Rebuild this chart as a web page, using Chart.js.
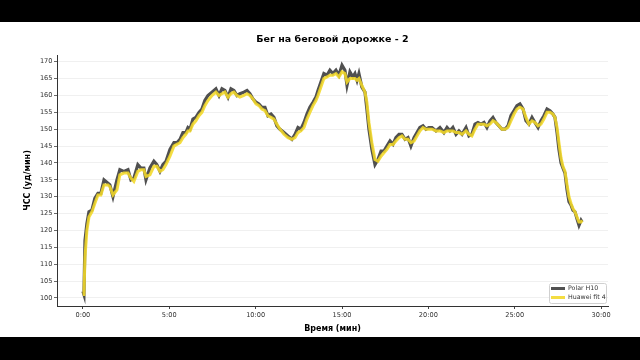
<!DOCTYPE html>
<html>
<head>
<meta charset="utf-8">
<script src="https://cdn.jsdelivr.net/npm/chart.js@4/dist/chart.umd.min.js"></script>
<style>
  html, body { margin: 0; padding: 0; background: #000; }
  #wrap { position: absolute; left: 0; top: 22px; width: 640px; height: 315px; background: #fff; }
</style>
</head>
<body>
<div id="wrap"><canvas id="hrChart" width="640" height="315"></canvas></div>
<script>
const chartTitle = "Бег на беговой дорожке - 2";
const xTitle = "Время (мин)";
const yTitle = "ЧСС (уд/мин)";
const seriesNames = ["Polar H10", "Huawei fit 4"];

// time in minutes
const minutes = [
  0.00, 0.06, 0.12, 0.23, 0.35, 0.52, 0.69, 0.87, 1.04, 1.22,
  1.45, 1.56, 1.74, 1.97, 2.14, 2.37, 2.61, 2.78, 2.95, 3.18,
  3.36, 3.53, 3.65, 3.88, 4.11, 4.28, 4.46, 4.63, 4.81, 5.04,
  5.27, 5.44, 5.62, 5.79, 5.96, 6.08, 6.20, 6.37, 6.54, 6.72,
  6.89, 7.06, 7.24, 7.47, 7.70, 7.88, 8.05, 8.22, 8.40, 8.57,
  8.74, 8.92, 9.09, 9.32, 9.50, 9.67, 9.84, 10.02, 10.19, 10.36,
  10.54, 10.71, 10.89, 11.06, 11.23, 11.41, 11.64, 11.87, 12.10, 12.28,
  12.45, 12.62, 12.80, 12.97, 13.14, 13.32, 13.49, 13.61, 13.78, 13.95,
  14.13, 14.30, 14.47, 14.65, 14.82, 15.00, 15.17, 15.29, 15.46, 15.63,
  15.75, 15.87, 15.98, 16.15, 16.33, 16.44, 16.56, 16.73, 16.91, 17.08,
  17.26, 17.43, 17.60, 17.78, 17.95, 18.12, 18.30, 18.47, 18.65, 18.82,
  18.99, 19.17, 19.34, 19.51, 19.69, 19.86, 20.03, 20.21, 20.44, 20.67,
  20.90, 21.08, 21.25, 21.42, 21.60, 21.77, 21.95, 22.18, 22.35, 22.52,
  22.70, 22.87, 23.05, 23.22, 23.39, 23.57, 23.74, 23.91, 24.09, 24.26,
  24.44, 24.61, 24.78, 24.96, 25.13, 25.30, 25.48, 25.65, 25.82, 26.00,
  26.17, 26.35, 26.52, 26.69, 26.87, 27.04, 27.21, 27.33, 27.45, 27.56,
  27.68, 27.79, 27.91, 28.03, 28.14, 28.26, 28.37, 28.49, 28.60, 28.72,
  28.84, 28.90
];

const polarHR = [
  102, 101, 117, 122, 125.5, 126, 129.5, 131, 131, 135,
  134, 133.5, 130, 135, 138, 137.5, 138, 135, 135.5, 139.5,
  138.5, 138.5, 135, 138.5, 140.5, 139.5, 137.5, 139.5, 140.5, 144,
  146, 146, 147, 149, 149, 150.5, 150, 153, 153.5, 155,
  156, 158.5, 160, 161, 162, 160, 162, 161.5, 159.5, 162,
  161.5, 160, 160.5, 161, 161.5, 160.5, 159, 158, 157.5, 156.5,
  156.5, 154, 154.5, 153.5, 151, 150, 149, 148, 147, 148.5,
  150.5, 150, 152, 154.5, 156.5, 158, 159.5, 161.5, 164, 166.5,
  166, 167.5, 166.5, 167.5, 166, 169, 167.5, 163, 167, 165.5,
  166.5, 164.5, 166.5, 162.5, 161, 156, 150, 144, 139.5, 141,
  143.5, 143.5, 145, 146.5, 145.5, 147.5, 148.5, 148.5, 147, 147.5,
  145, 147.5, 149, 150.5, 151, 150, 150.5, 150.5, 149.5, 150.5,
  149, 150.5, 149.5, 150.5, 148.5, 149.5, 148.5, 150.5, 148, 148.5,
  151.5, 152, 151.5, 152, 150.5, 152.5, 153.5, 152, 151, 150,
  150, 151, 154, 155.5, 157, 157.5, 156, 152.5, 151.5, 153.5,
  152, 150.5, 152.5, 154, 156, 155.5, 154.5, 153.5, 149, 144,
  140, 138.5, 137, 132, 128.5, 127.5, 126, 125.5, 123.5, 121.5,
  123, 122.5
];

const huaweiHR = [
  101, 101, 112, 120, 124, 125.5, 128, 130.5, 130.5, 133.5,
  133.5, 133, 130.5, 132, 136.5, 137, 137, 135.5, 134.5, 137.5,
  138, 138, 136, 136.5, 139, 139, 137.5, 138, 139.5, 142,
  145, 145.5, 146, 147.5, 148.5, 149.5, 149.5, 151.5, 152.5, 154,
  155, 157, 158.5, 160, 161, 160, 160.5, 161, 159.5, 160.5,
  161, 160, 159.5, 160, 160.5, 160, 159, 157.5, 157, 156,
  155.5, 154, 153.5, 153, 151.5, 150, 148.5, 147.5, 147, 147.5,
  149, 149.5, 150.5, 153, 155, 157, 158.5, 160, 162.5, 165,
  165.5, 166, 166, 166.5, 165.5, 167, 166.5, 164, 165, 165,
  165, 164.5, 165, 163, 161, 158, 152, 146, 141, 140.5,
  142, 143, 144, 145.5, 145.5, 146.5, 147.5, 148, 147, 147,
  146, 146.5, 148, 149.5, 150.5, 150, 150, 150, 149.5, 149.5,
  149, 149.5, 149.5, 149.5, 149, 149, 148.5, 149.5, 148.5, 148,
  150, 151.5, 151.5, 151.5, 151, 151.5, 152.5, 152, 151, 150,
  150, 150.5, 152.5, 154.5, 156, 156.5, 156, 153.5, 151.5, 152.5,
  152, 151, 151.5, 153, 155, 155, 154.5, 153.5, 150.5, 146,
  141.5, 139, 137.5, 133.5, 130, 128, 126.5, 125.5, 124, 122.5,
  122.5, 123
];

const xTicks = [0, 5, 10, 15, 20, 25, 30];
const yTicks = [100, 105, 110, 115, 120, 125, 130, 135, 140, 145, 150, 155, 160, 165, 170];

const polarColor = "#505050";
const huaweiColor = "rgba(242, 216, 40, 0.88)";

function toPoints(values) {
  return minutes.map((m, i) => ({ x: m, y: values[i] }));
}

// title centred over the axes, like matplotlib does
const titlePlugin = {
  id: "axesTitle",
  afterDraw(chart) {
    const { ctx, chartArea } = chart;
    ctx.save();
    ctx.font = "bold 9.5px 'DejaVu Sans'";
    ctx.fillStyle = "#000";
    ctx.textAlign = "center";
    ctx.textBaseline = "middle";
    ctx.fillText(chartTitle, (chartArea.left + chartArea.right) / 2, 18);
    ctx.restore();
  }
};

// legend box in the lower right corner of the plot
const cornerLegend = {
  id: "cornerLegend",
  afterDraw(chart) {
    const { ctx, chartArea } = chart;
    const colors = [polarColor, huaweiColor];
    const w = 57, h = 20;
    const x0 = chartArea.right - w - 2;
    const y0 = chartArea.bottom - h - 3;
    ctx.save();
    ctx.fillStyle = "rgba(255,255,255,0.85)";
    ctx.strokeStyle = "#d0d0d0";
    ctx.lineWidth = 1;
    ctx.beginPath();
    ctx.roundRect(x0 + 0.5, y0 + 0.5, w, h, 2);
    ctx.fill();
    ctx.stroke();
    ctx.font = "6.3px 'DejaVu Sans'";
    ctx.textBaseline = "middle";
    seriesNames.forEach((name, i) => {
      const yy = y0 + 5.5 + i * 9;
      ctx.strokeStyle = colors[i];
      ctx.lineWidth = 3;
      ctx.beginPath();
      ctx.moveTo(x0 + 2, yy);
      ctx.lineTo(x0 + 16, yy);
      ctx.stroke();
      ctx.fillStyle = "#333";
      ctx.fillText(name, x0 + 19, yy);
    });
    ctx.restore();
  }
};

new Chart(document.getElementById("hrChart"), {
  type: "line",
  data: {
    datasets: [
      {
        label: seriesNames[0],
        data: toPoints(polarHR),
        borderColor: polarColor,
        backgroundColor: polarColor,
        borderWidth: 3.2,
        pointRadius: 0,
        tension: 0,
        order: 2
      },
      {
        label: seriesNames[1],
        data: toPoints(huaweiHR),
        borderColor: huaweiColor,
        backgroundColor: huaweiColor,
        borderWidth: 3,
        pointRadius: 0,
        tension: 0,
        order: 1
      }
    ]
  },
  options: {
    responsive: false,
    animation: false,
    layout: { padding: { top: 33, right: 32, left: 0, bottom: 0 } },
    plugins: {
      legend: { display: false },
      tooltip: { enabled: false },
      title: { display: false }
    },
    scales: {
      x: {
        type: "linear",
        min: -1.5,
        max: 30.4,
        afterFit: (scale) => { scale.height = 31; },
        afterBuildTicks: (scale) => { scale.ticks = xTicks.map(v => ({ value: v })); },
        ticks: {
          color: "#333",
          padding: 2,
          maxRotation: 0,
          font: { family: "'DejaVu Sans'", size: 6.6 },
          callback: (v) => v + ":00"
        },
        grid: {
          drawOnChartArea: false,
          tickColor: "#444",
          tickLength: 3
        },
        border: { display: true, color: "#333", width: 1 },
        title: {
          display: true,
          text: xTitle,
          color: "#000",
          padding: { top: 0, bottom: 3.5 },
          font: { family: "'DejaVu Sans'", size: 8, weight: "bold" }
        }
      },
      y: {
        min: 97.6,
        max: 172,
        afterFit: (scale) => { scale.width = 57; },
        afterBuildTicks: (scale) => { scale.ticks = yTicks.map(v => ({ value: v })); },
        ticks: {
          color: "#333",
          padding: 1.5,
          font: { family: "'DejaVu Sans'", size: 6.6 }
        },
        grid: {
          color: "#ececec",
          lineWidth: 0.8,
          tickColor: "#444",
          tickLength: 3
        },
        border: { display: true, color: "#333", width: 1 },
        title: {
          display: true,
          text: yTitle,
          color: "#000",
          padding: { top: 23, bottom: 0 },
          font: { family: "'DejaVu Sans'", size: 8, weight: "bold" }
        }
      }
    }
  },
  plugins: [titlePlugin, cornerLegend]
});
</script>
</body>
</html>
